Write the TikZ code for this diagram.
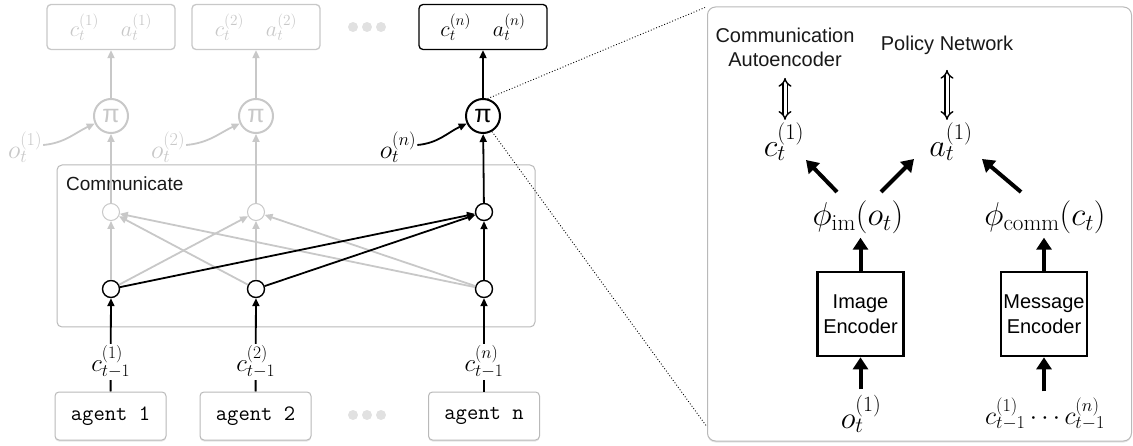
\RequirePackage{fix-cm}
\documentclass[tikz,border=0pt]{standalone}
\usepackage{fontspec}
\newfontfamily\helv{Liberation Sans}
\newfontfamily\agentfont{Latin Modern Mono}
\usetikzlibrary{arrows.meta,shadows,calc}
\definecolor{fade}{RGB}{200,200,200}
\definecolor{boxgray}{RGB}{185,185,185}
\definecolor{dotgray}{RGB}{225,225,225}
\begin{document}
\begin{tikzpicture}[x=1pt,y=-1pt,
  outbox/.style={draw, rounded corners=4pt, minimum width=128pt, minimum height=45pt, line width=1.3pt, inner sep=0pt, font=\fontsize{22}{26}\selectfont},
  fadebox/.style={outbox, draw=fade, text=fade},
  pinode/.style={circle, draw, line width=2pt, minimum size=34pt, inner sep=0pt, fill=white, font=\helv\fontsize{25}{25}\selectfont},
  fadepi/.style={pinode, draw=fade, text=fade},
  dotnode/.style={circle, draw, line width=1.4pt, minimum size=17pt, inner sep=0pt, fill=white},
  fadedot/.style={dotnode, draw=fade, line width=1pt},
  agentbox/.style={draw=boxgray, line width=1pt, rounded corners=4pt, minimum width=111pt, minimum height=48pt, fill=white, drop shadow={shadow xshift=0pt, shadow yshift=-1.5pt, opacity=0.2}, font=\agentfont\fontsize{22}{22}\selectfont},
  moredots/.style={circle, fill=dotgray, minimum size=10pt, inner sep=0pt},
  arr/.style={-{Triangle[length=8pt,width=7pt]}, line width=1.8pt},
  farr/.style={arr, draw=fade},
  bigarr/.style={-{Triangle[length=12pt,width=15pt]}, line width=4pt},
  encbox/.style={draw, line width=2.6pt, minimum width=86pt, minimum height=84pt, align=center, inner sep=0pt, font=\helv\fontsize{20}{25}\selectfont},
  dbl/.style={double, double distance=3pt, line width=1.4pt, {Implies[length=6pt]}-{Implies[length=6pt]}},
  lbl/.style={font=\helv\fontsize{20}{24}\selectfont, align=center, text=black!90},
  bigmath/.style={font=\fontsize{32}{36}\selectfont, inner sep=1pt},
  phimath/.style={font=\fontsize{33}{36}\selectfont, inner sep=1pt},
  obs/.style={font=\fontsize{26}{30}\selectfont, inner sep=1pt},
  obsb/.style={font=\fontsize{31}{34}\selectfont, inner sep=1pt},
  cin/.style={font=\fontsize{25}{30}\selectfont, fill=white, inner sep=2pt}
]
\useasboundingbox (0,0) rectangle (1133,446);

% ---------- right panel ----------
\node[draw=boxgray, line width=1pt, rounded corners=8pt, minimum width=424pt, minimum height=434pt, fill=white,
      drop shadow={shadow xshift=0pt, shadow yshift=-1.5pt, opacity=0.2}] (panel) at (919.5,224) {};

% ---------- left: outputs ----------
\node[fadebox] (top1) at (111,27) {$c_t^{(1)}\quad a_t^{(1)}$};
\node[fadebox] (top2) at (256,27) {$c_t^{(2)}\quad a_t^{(2)}$};
\node[outbox] (topn) at (483,27) {$c_t^{(n)}\quad a_t^{(n)}$};
\node[moredots] (td1) at (353,27) {};
\node[moredots] (td2) at (367,27) {};
\node[moredots] (td3) at (381,27) {};

\node[fadepi] (pi1) at (111,116) {π};
\node[fadepi] (pi2) at (256,116) {π};
\node[pinode] (pin) at (483,116) {π};

\node[obs, text=fade] (o1) at (25,147) {$o_t^{(1)}$};
\node[obs, text=fade] (o2) at (168,147) {$o_t^{(2)}$};
\node[obs] (on) at (398,147) {$o_t^{(n)}$};

\draw[farr] ([yshift=2pt]o1.east) to[out=5,in=205] (pi1);
\draw[farr] ([yshift=2pt]o2.east) to[out=5,in=205] (pi2);
\draw[arr] ([yshift=2pt]on.east) to[out=5,in=205] (pin);

\draw[farr] (pi1) -- (top1);
\draw[farr] (pi2) -- (top2);
\draw[arr] (pin) -- (topn);

% ---------- communicate box ----------
\node[draw=boxgray, line width=1pt, rounded corners=5pt, minimum width=478pt, minimum height=162pt] (comm) at (296,246) {};
\node[lbl, anchor=west, inner sep=0pt, font=\helv\fontsize{19}{23}\selectfont] (commlbl) at (66,184) {Communicate};

\node[fadedot] (u1) at (111,212) {};
\node[fadedot] (u2) at (256,212) {};
\node[dotnode] (un) at (484,212) {};
\node[dotnode] (l1) at (111,289) {};
\node[dotnode] (l2) at (256,289) {};
\node[dotnode] (ln) at (484,289) {};

\draw[farr] (u1) -- (pi1);
\draw[farr] (u2) -- (pi2);
\draw[arr] (un) -- (pin);

\draw[farr] (l1) -- (u1);
\draw[farr] (l1) -- (u2);
\draw[farr] (l2) -- (u1);
\draw[farr] (l2) -- (u2);
\draw[farr] (ln) -- (u1);
\draw[farr] (ln) -- (u2);
\draw[arr] (l1) -- (un);
\draw[arr] (l2) -- (un);
\draw[arr] (ln) -- (un);

% ---------- agents ----------
\node[agentbox] (a1) at (110.5,416) {agent 1};
\node[agentbox] (a2) at (255.5,416) {agent 2};
\node[agentbox] (an) at (484,416) {agent n};
\node[moredots] (bd1) at (353,415) {};
\node[moredots] (bd2) at (367,415) {};
\node[moredots] (bd3) at (381,415) {};

\draw[arr] (a1) -- node[cin, pos=0.32] {$c^{(1)}_{t-1}$} (l1);
\draw[arr] (a2) -- node[cin, pos=0.32] {$c^{(2)}_{t-1}$} (l2);
\draw[arr] (an) -- node[cin, pos=0.32] {$c^{(n)}_{t-1}$} (ln);

% ---------- zoom lines ----------
\draw[dotted, line width=0.9pt] (pin.75) -- ([shift={(-2pt,-1pt)}]panel.north west);
\draw[dotted, line width=0.9pt] (pin.-60) -- ([shift={(-1pt,16pt)}]panel.south west);

% ---------- right panel content ----------
\node[lbl] (ca) at (785,47) {Communication\\Autoencoder};
\node[lbl] (pn) at (947,45) {Policy Network};

\node[bigmath] (ct) at (784,142) {$c_t^{(1)}$};
\node[bigmath] (at) at (951,142) {$a_t^{(1)}$};

\draw[dbl, shorten <=8pt, shorten >=2pt] (ca.south) -- (ca.south |- ct.north);
\draw[dbl, shorten <=12pt, shorten >=2pt] (pn.south) -- (pn.south |- at.north);

\node[phimath] (phiim) at (858,217) {$\phi_{\mathrm{im}}(o_t)$};
\node[phimath] (phicomm) at (1045,217) {$\phi_{\mathrm{comm}}(c_t)$};

\coordinate (s1) at (837,192);
\coordinate (e1) at (806,160);
\coordinate (s2) at (881,192);
\coordinate (e2) at (914,159);
\coordinate (s3) at (1021,192);
\coordinate (e3) at (982,159);
\draw[bigarr] (s1) -- (e1);
\draw[bigarr] (s2) -- (e2);
\draw[bigarr] (s3) -- (e3);

\node[encbox] (imenc) at (860.5,314) {Image\\Encoder};
\node[encbox] (msgenc) at (1044,314) {Message\\Encoder};

\draw[bigarr, shorten >=3pt] (imenc) -- (imenc |- phiim.south);
\draw[bigarr, shorten >=3pt] (msgenc) -- (msgenc |- phicomm.south);

\node[obsb] (oin) at (861,414) {$o_t^{(1)}$};
\node[obs] (cinall) at (1045,414) {$c^{(1)}_{t-1}\cdots c^{(n)}_{t-1}$};

\draw[bigarr, shorten <=5pt] (oin.north -| imenc) -- (imenc);
\draw[bigarr, shorten <=5pt] (cinall.north -| msgenc) -- (msgenc);
\end{tikzpicture}
\end{document}
